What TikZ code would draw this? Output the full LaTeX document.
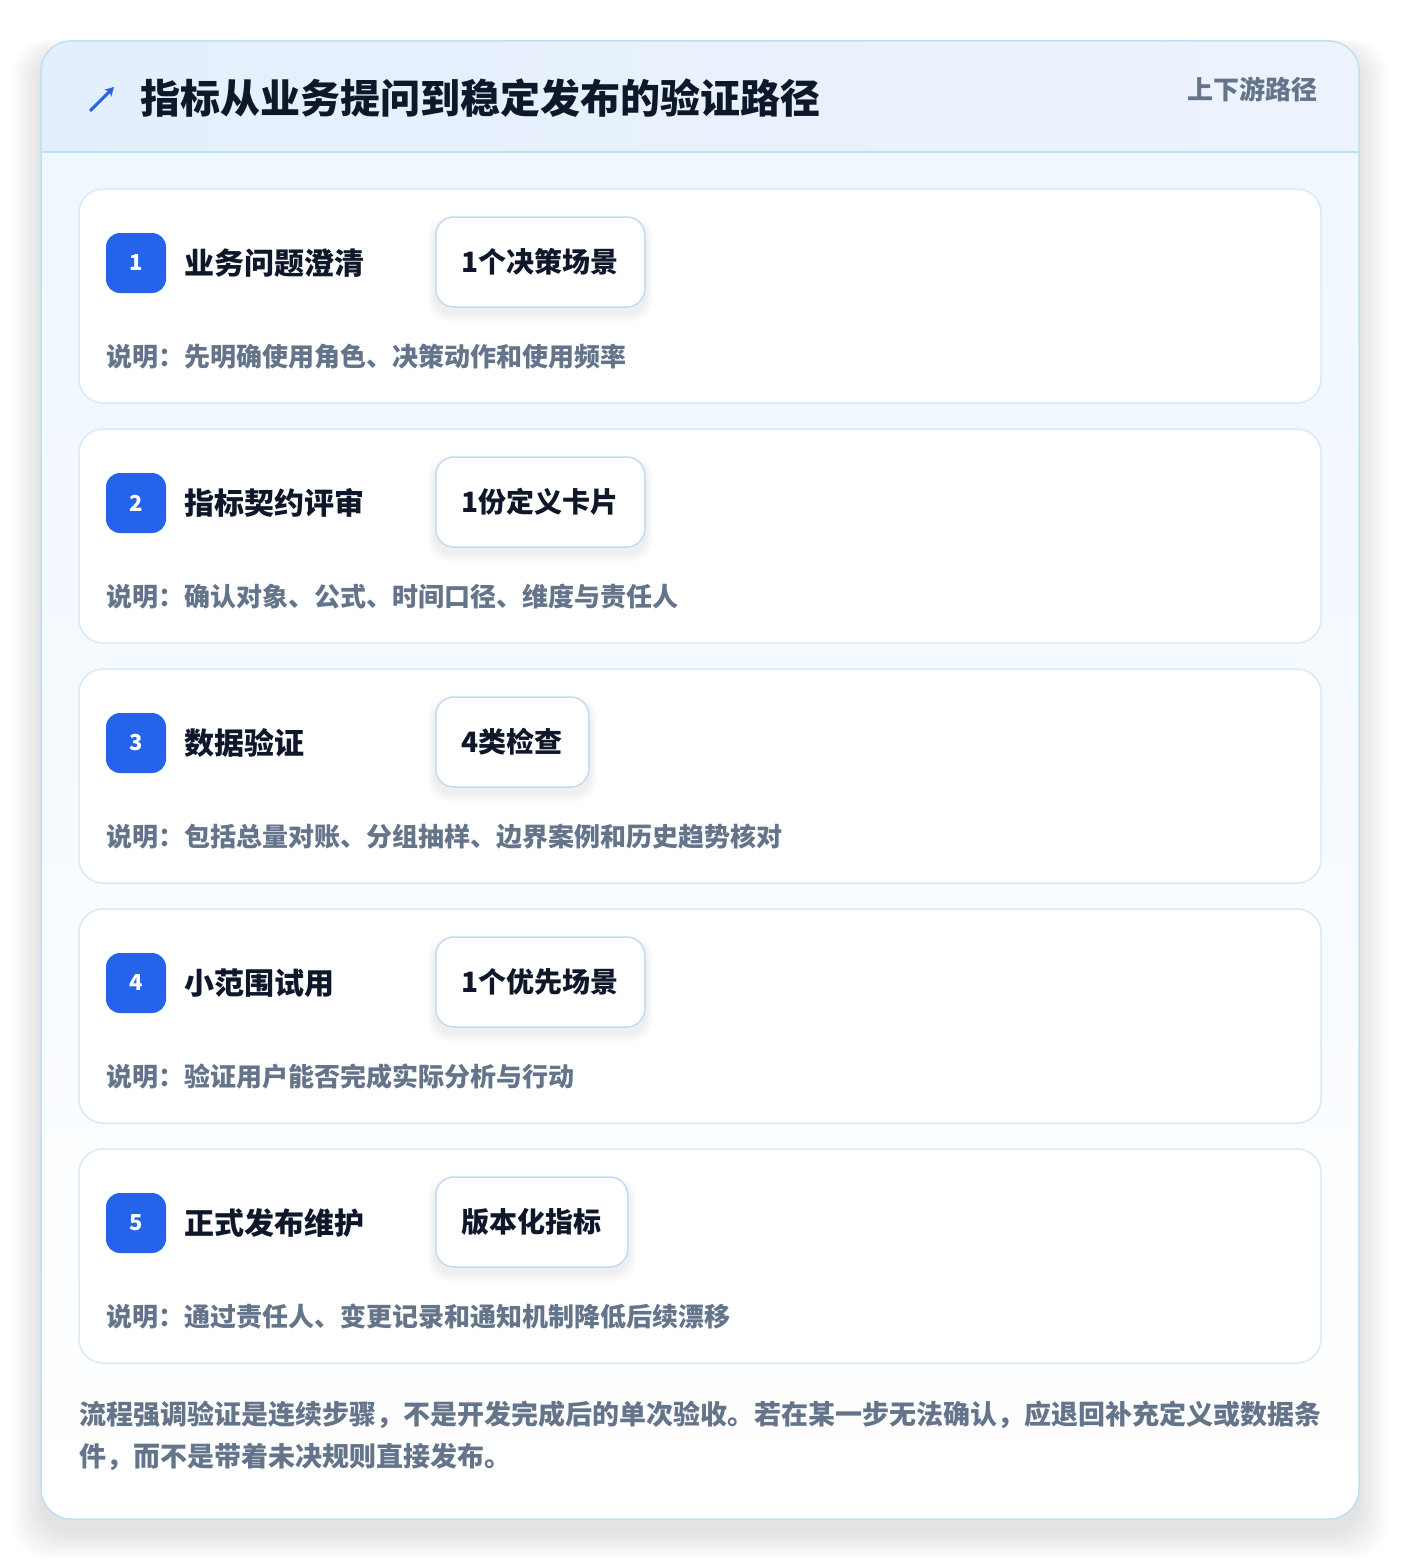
\documentclass[tikz,border=0pt]{standalone}
\usepackage{fontspec}
\setmainfont{Noto Sans CJK SC}
\newfontfamily\heavy{Noto Sans CJK SC Black}
\usetikzlibrary{positioning,calc,arrows.meta}

\definecolor{frameline}{HTML}{BEE0F5}
\definecolor{headleft}{HTML}{E3EFFC}
\definecolor{headright}{HTML}{EDF3FD}
\definecolor{bodytop}{HTML}{EEF6FF}
\definecolor{stepline}{HTML}{DCE9FA}
\definecolor{tagline}{HTML}{C4DAF6}
\definecolor{badgeblue}{HTML}{2563EB}
\definecolor{ink}{HTML}{0F172A}
\definecolor{muted}{HTML}{64748B}

\pgfdeclarelayer{cards}
\pgfdeclarelayer{glow}
\pgfsetlayers{cards,glow,main}

\begin{document}
\begin{tikzpicture}[x=1pt,y=-1pt,
    stepcard/.style={draw=stepline, line width=1.5pt, fill=white, rounded corners=24pt},
    badge/.style={fill=badgeblue, text=white, rounded corners=14pt, minimum size=60pt,
      inner sep=0pt, font=\fontsize{22}{22}\selectfont\bfseries},
    steptitle/.style={anchor=west, inner sep=0pt, text=ink, font=\heavy\fontsize{30}{30}\selectfont},
    tagpill/.style={anchor=west, draw=tagline, line width=1.5pt, fill=white, rounded corners=18pt,
      minimum height=90pt, inner xsep=26pt, text=ink, font=\heavy\fontsize{28}{28}\selectfont},
    stepnote/.style={anchor=west, inner sep=0pt, text=muted, font=\fontsize{26}{26}\selectfont\bfseries},
    sumline/.style={anchor=west, inner sep=0pt, text=muted, font=\fontsize{27}{27}\selectfont\bfseries}]
  \useasboundingbox (0,0) rectangle (1400,1560);
  \begin{pgfonlayer}{cards}
  \fill[white] (0,0) rectangle (1400,1560);
  % soft shadow under the frame
  \foreach \s in {1,...,14}
    \fill[black, opacity=0.007, rounded corners=34pt] (41-2*\s,41+12-\s) rectangle (1359+2*\s,1519+12+2*\s);
  % frame
  \shade[top color=bodytop, bottom color=white, rounded corners=30pt] (41,41) rectangle (1359,1519);
  \begin{scope}
    \clip[rounded corners=30pt] (41,41) rectangle (1359,1519);
    \shade[left color=headleft, right color=headright] (41,41) rectangle (1359,152);
    \draw[frameline, line width=1.5pt] (41,152) -- (1359,152);
  \end{scope}
  \draw[frameline, line width=1.5pt, rounded corners=30pt] (41,41) rectangle (1359,1519);
  \end{pgfonlayer}
  % header
  \draw[badgeblue, line width=3pt, -{Stealth[length=9pt,width=10pt]}] (90,111) -- (114,87);
  \node[anchor=west, inner sep=0pt, text=ink, font=\heavy\fontsize{40}{40}\selectfont] (title) at (140,98) {指标从业务提问到稳定发布的验证路径};
  \node[anchor=east, inner sep=0pt, text=muted, font=\fontsize{26}{26}\selectfont\bfseries] (scope) at (1318,89) {上下游路径};
  % steps
  \foreach \n/\head/\tag/\note [count=\k from 0] in {
      1/业务问题澄清/1个决策场景/先明确使用角色、决策动作和使用频率,
      2/指标契约评审/1份定义卡片/确认对象、公式、时间口径、维度与责任人,
      3/数据验证/4类检查/包括总量对账、分组抽样、边界案例和历史趋势核对,
      4/小范围试用/1个优先场景/验证用户能否完成实际分析与行动,
      5/正式发布维护/版本化指标/通过责任人、变更记录和通知机制降低后续漂移}{
    \pgfmathsetmacro\y{189+240*\k}
    \begin{pgfonlayer}{cards}
      \draw[stepcard] (79,\y) rectangle (1321,\y+214);
    \end{pgfonlayer}
    \node[badge] (badge\n) at (136,\y+74) {\n};
    \node[steptitle] (head\n) at (184,\y+74) {\head};
    \node[tagpill] (tag\n) at (435,\y+73) {\tag};
    \begin{pgfonlayer}{glow}
      \foreach \s in {1,...,8}
        \fill[black, opacity=0.006, rounded corners=20pt]
          ($(tag\n.north west)+(-\s,8-\s)$) rectangle ($(tag\n.south east)+(\s,6+\s)$);
    \end{pgfonlayer}
    \node[stepnote] (note\n) at (106,\y+168) {说明：\note};
  }
  % summary
  \node[sumline] (sum1) at (79,1415) {流程强调验证是连续步骤，不是开发完成后的单次验收。若在某一步无法确认，应退回补充定义或数据条};
  \node[sumline] (sum2) at (79,1457) {件，而不是带着未决规则直接发布。};
\end{tikzpicture}
\end{document}
